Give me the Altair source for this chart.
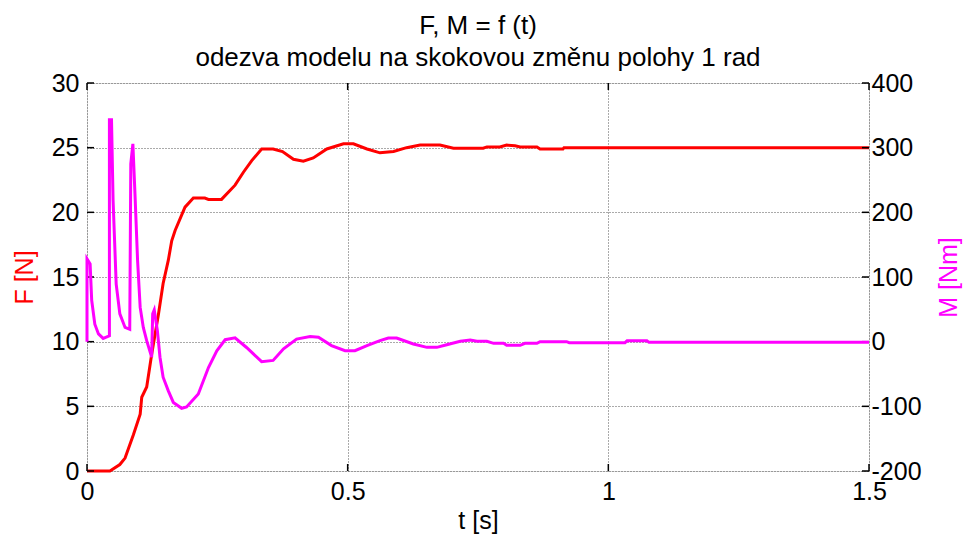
import altair as alt
import pandas as pd

# ---- data ----
t_F = [0, 0.044, 0.063, 0.073, 0.089, 0.102, 0.105, 0.1145, 0.124, 0.137, 0.146, 0.156, 0.1625, 0.169,
       0.188, 0.204, 0.226, 0.233, 0.258, 0.284, 0.300, 0.316, 0.335, 0.357, 0.375, 0.396, 0.415, 0.434,
       0.460, 0.492, 0.511, 0.537, 0.562, 0.588, 0.613, 0.639, 0.677, 0.703, 0.760, 0.767, 0.792, 0.805,
       0.821, 0.831, 0.863, 0.869, 0.913, 0.915, 1.5]
F_val = [0, 0, 0.5, 1.0, 2.8, 4.4, 5.7, 6.5, 9.0, 12.1, 14.5, 16.3, 17.8, 18.6,
         20.4, 21.1, 21.1, 21.0, 21.0, 22.1, 23.1, 24.0, 24.9, 24.9, 24.7, 24.1, 23.95, 24.2,
         24.9, 25.3, 25.3, 24.9, 24.6, 24.7, 25.0, 25.2, 25.2, 24.96, 24.96, 25.06, 25.06, 25.2,
         25.14, 25.06, 25.06, 24.9, 24.9, 25.0, 25.0]

t_M = [0, 0, 0.006, 0.009, 0.015, 0.022, 0.031, 0.043, 0.043, 0.047, 0.050, 0.056, 0.063, 0.073,
       0.082, 0.084, 0.088, 0.092, 0.097, 0.102, 0.108, 0.1145, 0.124, 0.126, 0.129, 0.135, 0.140,
       0.146, 0.156, 0.1656, 0.1816, 0.191, 0.2135, 0.233, 0.249, 0.265, 0.284, 0.306, 0.335, 0.357,
       0.377, 0.402, 0.428, 0.444, 0.469, 0.495, 0.514, 0.537, 0.562, 0.578, 0.594, 0.626, 0.652,
       0.671, 0.690, 0.716, 0.735, 0.748, 0.767, 0.780, 0.799, 0.805, 0.831, 0.840, 0.863, 0.869,
       0.920, 0.925, 1.032, 1.036, 1.074, 1.078, 1.5]
M_val = [0, 128, 120, 64, 27, 12, 5, 9, 343, 343, 219, 89, 43, 22,
         19, 275, 306, 229, 126, 53, 22, 1.5, -24, 43, 49, 17, -24,
         -55, -76, -94, -103, -101, -81, -40, -14, 3, 6, -9, -31, -29,
         -11, 4, 7.8, 6.7, -6, -14, -14, -6, 1.5, 5.7, 5.7, -3.6, -8.8,
         -8.8, -4.7, 0.5, 2.6, 0.5, 0.5, -2.6, -2.6, -5.7, -5.7, -2.6, -2.6, 0,
         0, -1.5, -1.5, 1.5, 1.5, -1, -1]

x_ticks = [0, 0.5, 1, 1.5]
F_ticks = [0, 5, 10, 15, 20, 25, 30]
M_ticks = [-200, -100, 0, 100, 200, 300, 400]

W, H = 782, 388
TICK = 7
FONT = "Liberation Sans"

dfF = pd.DataFrame({"t": t_F, "F": F_val, "i": range(len(t_F))})
dfM = pd.DataFrame({"t": t_M, "M": M_val, "i": range(len(t_M))})
dfX = pd.DataFrame({"t": x_ticks})
dfY = pd.DataFrame({"F": F_ticks})

xscale = alt.Scale(domain=[0, 1.5], nice=False, zero=False)
Fscale = alt.Scale(domain=[0, 30], nice=False, zero=False)
Mscale = alt.Scale(domain=[-200, 400], nice=False, zero=False)

x_axis = alt.Axis(values=x_ticks, labelExpr="datum.value + ''", title="t [s]",
                  grid=True, gridDash=[1, 2], gridColor="#555", gridWidth=1,
                  tickSize=0, domain=False, labelFlush=False, labelOverlap=False,
                  labelFontSize=25, labelFont=FONT, labelColor="black", labelPadding=8,
                  titleFontSize=25, titleFont=FONT, titleFontWeight="normal",
                  titleColor="black", titlePadding=4)

F_line = alt.Chart(dfF).mark_line(color="#ff0000", strokeWidth=3).encode(
    x=alt.X("t:Q", scale=xscale, axis=x_axis),
    y=alt.Y("F:Q", scale=Fscale,
            axis=alt.Axis(values=F_ticks, orient="left", title="F [N]", grid=True,
                          gridDash=[1, 2], gridColor="#555", gridWidth=1,
                          tickSize=0, domain=False, labelFlush=False, labelOverlap=False,
                          labelFontSize=25, labelFont=FONT, labelColor="black", labelPadding=8,
                          titleFontSize=25, titleFont=FONT, titleFontWeight="normal",
                          titleColor="#ff0000", titlePadding=14)),
    order="i:Q",
)

tick_bottom = alt.Chart(dfX).mark_rule(color="black", strokeWidth=1.5).encode(
    x=alt.X("t:Q", scale=xscale), y=alt.value(H), y2=alt.value(H - TICK))
tick_top = alt.Chart(dfX).mark_rule(color="black", strokeWidth=1.5).encode(
    x=alt.X("t:Q", scale=xscale), y=alt.value(0), y2=alt.value(TICK))
tick_left = alt.Chart(dfY).mark_rule(color="black", strokeWidth=1.5).encode(
    y=alt.Y("F:Q", scale=Fscale), x=alt.value(0), x2=alt.value(TICK))
tick_right = alt.Chart(dfY).mark_rule(color="black", strokeWidth=1.5).encode(
    y=alt.Y("F:Q", scale=Fscale), x=alt.value(W - TICK), x2=alt.value(W))

F_group = alt.layer(F_line, tick_bottom, tick_top, tick_left, tick_right)

M_line = alt.Chart(dfM).mark_line(color="#ff00ff", strokeWidth=3).encode(
    x=alt.X("t:Q", scale=xscale),
    y=alt.Y("M:Q", scale=Mscale,
            axis=alt.Axis(values=M_ticks, orient="right", title="M [Nm]", grid=False,
                          labelExpr="datum.value + ''",
                          tickSize=0, domain=False, labelFlush=False, labelOverlap=False,
                          labelFontSize=25, labelFont=FONT, labelColor="black", labelPadding=2,
                          titleFontSize=25, titleFont=FONT, titleFontWeight="normal",
                          titleColor="#ff00ff", titleAngle=270, titlePadding=40)),
    order="i:Q",
)

chart = alt.layer(F_group, M_line).resolve_scale(y="independent").properties(
    width=W, height=H,
    autosize=alt.AutoSizeParams(type="none"),
    padding={"left": 79, "top": 75, "right": 94, "bottom": 64},
    title=alt.TitleParams(text=["F, M = f (t)", "odezva modelu na skokovou změnu polohy 1 rad"],
                          fontSize=26, font=FONT, fontWeight="normal", color="black",
                          anchor="middle", lineHeight=32, offset=0),
).configure_view(stroke="black", strokeWidth=1.5).configure(background="white")

chart.save("out.html", embed_options={"renderer": "svg", "actions": False})
